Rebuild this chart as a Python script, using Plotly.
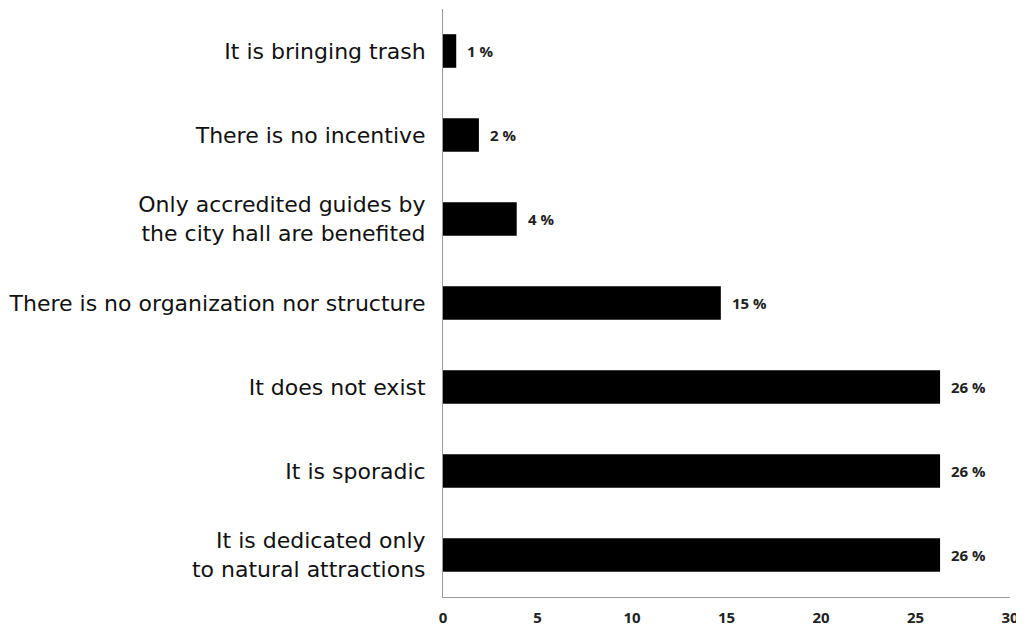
import plotly.graph_objects as go

categories = [
    "It is dedicated only<br>to natural attractions",
    "It is sporadic",
    "It does not exist",
    "There is no organization nor structure",
    "Only accredited guides by<br>the city hall are benefited",
    "There is no incentive",
    "It is bringing trash",
]
values = [26.3, 26.3, 26.3, 14.7, 3.9, 1.9, 0.7]
value_labels = ["26 %", "26 %", "26 %", "15 %", "4 %", "2 %", "1 %"]
x_ticks = [0, 5, 10, 15, 20, 25, 30]

fig = go.Figure()
fig.add_trace(go.Bar(
    y=categories,
    x=values,
    orientation="h",
    marker=dict(color="black", line=dict(width=0)),
    width=0.4,
    cliponaxis=False,
))

for cat, val, lab in zip(categories, values, value_labels):
    fig.add_annotation(
        x=val, y=cat, xref="x", yref="y",
        text=lab, showarrow=False,
        xanchor="left", yanchor="middle", xshift=9,
        font=dict(family="Open Sans", size=15, color="#222222", weight="bold"),
    )

fig.update_layout(
    width=1016,
    height=624,
    margin=dict(l=430, r=14, t=1, b=35),
    paper_bgcolor="white",
    plot_bgcolor="white",
    showlegend=False,
    xaxis=dict(
        range=[0, 30],
        tickvals=x_ticks,
        ticktext=[str(t) for t in x_ticks],
        showgrid=False,
        zeroline=False,
        showline=True,
        linecolor="#999999",
        linewidth=1,
        ticks="",
        ticklabelstandoff=7,
        tickfont=dict(family="Open Sans", size=15, color="#222222", weight="bold"),
    ),
    yaxis=dict(
        showgrid=False,
        zeroline=False,
        showline=True,
        linecolor="#999999",
        linewidth=1,
        ticks="",
        ticklabelstandoff=12,
        tickfont=dict(family="DejaVu Sans", size=22, color="#111111"),
        range=[-0.5, 6.5],
    ),
)

fig.write_html("out.html")
